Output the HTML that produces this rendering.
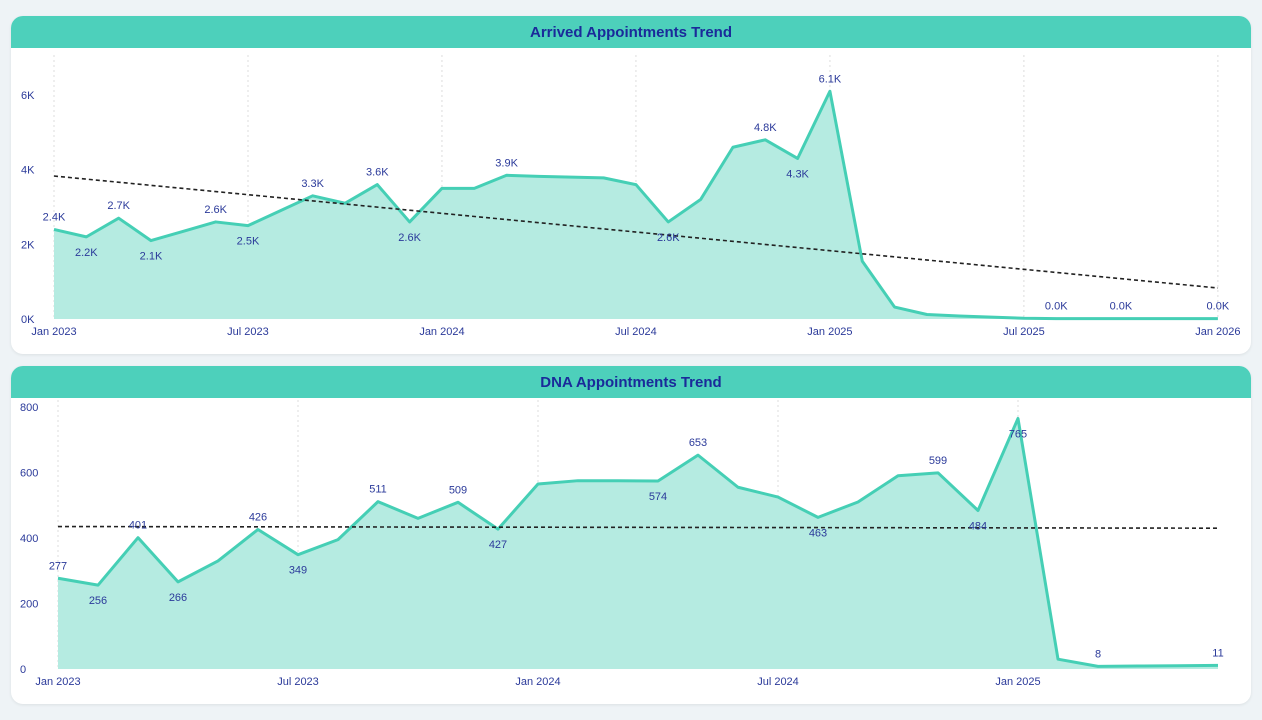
<!DOCTYPE html>
<html><head><meta charset="utf-8"><style>
body{margin:0;background:#eef3f6;width:1262px;height:720px;overflow:hidden;font-family:"Liberation Sans",sans-serif}
.panel{position:absolute;left:11px;width:1240px;height:338px;background:#fff;border-radius:12px;overflow:hidden;box-shadow:0 1px 3px rgba(0,0,0,.08)}
.hdr{height:32px;background:#4dd0bb;color:#1a2a9a;font-weight:bold;font-size:15px;text-align:center;line-height:33px}
svg{position:absolute;left:0;top:0}
</style></head><body>
<div class="panel" style="top:16px"><div class="hdr">Arrived Appointments Trend</div></div>
<div class="panel" style="top:366px"><div class="hdr">DNA Appointments Trend</div></div>
<svg id="s" width="1262" height="720"></svg>
<script>
// Arrived chart data (thousands), monthly from Jan 2023
const arrivedValues=[2.4,2.2,2.7,2.1,2.35,2.6,2.5,2.9,3.3,3.1,3.6,2.6,3.5,3.5,3.85,3.82,3.8,3.78,3.6,2.6,3.2,4.6,4.8,4.3,6.1,1.55,0.32,0.12,0.08,0.05,0.02,0.01,0.01,0.01,0.01,0.01,0.01];
const arrivedLabels=[[0,'2.4K',-1],[1,'2.2K',1],[2,'2.7K',-1],[3,'2.1K',1],[5,'2.6K',-1],[6,'2.5K',1],[8,'3.3K',-1],[10,'3.6K',-1],[11,'2.6K',1],[14,'3.9K',-1],[19,'2.6K',1],[22,'4.8K',-1],[23,'4.3K',1],[24,'6.1K',-1],[31,'0.0K',-1],[33,'0.0K',-1],[36,'0.0K',-1]];
const arrivedTrend=[3.83,0.83];
const arrivedYTicks=[0,2,4,6];
const arrivedXTicks=['Jan 2023','Jul 2023','Jan 2024','Jul 2024','Jan 2025','Jul 2025','Jan 2026'];
// DNA chart data, monthly from Jan 2023
const dnaValues=[277,256,401,266,330,426,349,395,511,460,509,427,565,575,575,574,653,555,525,463,510,590,599,484,765,30,8,9,10,11];
const dnaLabels=[[0,'277',-1],[1,'256',1],[2,'401',-1],[3,'266',1],[5,'426',-1],[6,'349',1],[8,'511',-1],[10,'509',-1],[11,'427',1],[15,'574',1],[16,'653',-1],[19,'463',1],[22,'599',-1],[23,'484',1],[24,'765',1],[26,'8',-1],[29,'11',-1]];
const dnaTrend=[435,430];
const dnaYTicks=[0,200,400,600,800];
const dnaXTicks=['Jan 2023','Jul 2023','Jan 2024','Jul 2024','Jan 2025'];
const NS='http://www.w3.org/2000/svg',S=document.getElementById('s');
function el(t,a,txt){const e=document.createElementNS(NS,t);for(const k in a)e.setAttribute(k,a[k]);if(txt!=null)e.textContent=txt;S.appendChild(e);return e;}
function chart(o){
 const X=i=>o.x0+i*o.dx, Y=v=>o.y0-(v/o.ymax)*(o.y0-o.y1);
 o.xt.forEach((t,i)=>{const x=X(i*6);
  const g=el('line',{x1:x,x2:x,y1:o.gt,y2:o.y0,stroke:'#ddd','stroke-dasharray':'2 3'});
  
  const tl=el('text',{x:x,y:o.y0+16,'text-anchor':'middle','font-size':11,fill:'#2b3a9a'},t);
  });
 o.yt.forEach(v=>{const t=el('text',{x:o.ylx,y:Y(v)+4,'font-size':11,fill:'#2b3a9a'},v+o.suf);
  });
 const pts=o.vals.map((v,i)=>X(i)+','+Y(v)).join(' ');
 const a=el('polygon',{points:X(0)+','+o.y0+' '+pts+' '+X(o.vals.length-1)+','+o.y0,fill:'#b5ebe1'});
 
 const l=el('polyline',{points:pts,fill:'none',stroke:'#45cfb5','stroke-width':3,'stroke-linejoin':'round'});
 
 const tr=el('line',{x1:X(0),y1:Y(o.tr[0]),x2:o.trx,y2:Y(o.tr[1]),stroke:'#222','stroke-width':1.6,'stroke-dasharray':'4 3'});
 
 o.labs.forEach(([i,t,d])=>{const y=Y(o.vals[i])+(d<0?-9:19);
  const e=el('text',{x:X(i),y:y,'text-anchor':'middle','font-size':11,fill:'#2b3a9a'},t);
  });
}
chart({x0:54,dx:32.33,y0:319,y1:95,ymax:6,gt:55,vals:arrivedValues,labs:arrivedLabels,tr:arrivedTrend,trx:1218,yt:arrivedYTicks,xt:arrivedXTicks,suf:'K',ylx:21});
chart({x0:58,dx:40,y0:669,y1:407,ymax:800,gt:400,vals:dnaValues,labs:dnaLabels,tr:dnaTrend,trx:1218,yt:dnaYTicks,xt:dnaXTicks,suf:'',ylx:20});
</script>
</body></html>
